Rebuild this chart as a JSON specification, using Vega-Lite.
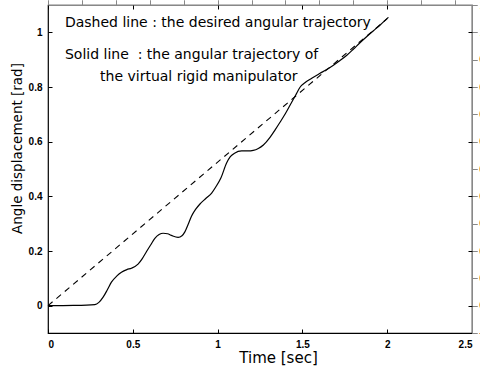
{
  "$schema": "https://vega.github.io/schema/vega-lite/v6.json",
  "width": 424,
  "height": 328,
  "autosize": "none",
  "padding": {"left": 48, "top": 5, "right": 8, "bottom": 35},
  "background": "white",
  "config": {
    "view": {"stroke": "black", "strokeWidth": 1.2},
    "font": "Liberation Sans"
  },
  "layer": [
    {
      "data": {"values": [
        {"t": 0, "a": 0}, {"t": 2.0, "a": 1.05}
      ]},
      "mark": {"type": "line", "color": "black", "strokeWidth": 1.1, "strokeDash": [6, 5]},
      "encoding": {
        "x": {"field": "t", "type": "quantitative", "scale": {"domain": [0, 2.5], "nice": false},
          "axis": {"title": "Time [sec]", "values": [0, 0.5, 1, 1.5, 2, 2.5], "format": "~g", "grid": false,
            "domain": false, "tickColor": "black", "tickSize": -4, "labelPadding": 10,
            "labelFont": "Liberation Sans", "labelFontSize": 10, "labelFontWeight": "bold", "labelColor": "black",
            "titleFont": "DejaVu Sans", "titleFontSize": 15, "titleFontWeight": "normal", "titleColor": "black",
            "titlePadding": 1, "titleX": 230}},
        "y": {"field": "a", "type": "quantitative", "scale": {"domain": [-0.1, 1.1], "nice": false},
          "axis": {"title": "Angle displacement [rad]", "values": [0, 0.2, 0.4, 0.6, 0.8, 1], "format": "~g", "grid": false,
            "domain": false, "tickColor": "black", "tickSize": -4, "labelPadding": 10,
            "labelFont": "Liberation Sans", "labelFontSize": 10, "labelFontWeight": "bold", "labelColor": "black",
            "titleFont": "DejaVu Sans", "titleFontSize": 13.5, "titleFontWeight": "normal", "titleColor": "black",
            "titlePadding": 4, "titleY": 143}}
      }
    },
    {
      "data": {"values": [
        {"t": 0, "a": 0}, {"t": 0.15, "a": 0.001}, {"t": 0.276, "a": 0.004}, {"t": 0.3, "a": 0.012},
        {"t": 0.325, "a": 0.031}, {"t": 0.35, "a": 0.058}, {"t": 0.374, "a": 0.086}, {"t": 0.405, "a": 0.108},
        {"t": 0.433, "a": 0.122}, {"t": 0.465, "a": 0.132}, {"t": 0.492, "a": 0.137}, {"t": 0.531, "a": 0.152},
        {"t": 0.556, "a": 0.172}, {"t": 0.581, "a": 0.198}, {"t": 0.605, "a": 0.222}, {"t": 0.630, "a": 0.246},
        {"t": 0.655, "a": 0.260}, {"t": 0.679, "a": 0.265}, {"t": 0.705, "a": 0.263}, {"t": 0.728, "a": 0.257},
        {"t": 0.767, "a": 0.250}, {"t": 0.79, "a": 0.256}, {"t": 0.807, "a": 0.270}, {"t": 0.826, "a": 0.297},
        {"t": 0.846, "a": 0.327}, {"t": 0.87, "a": 0.352}, {"t": 0.896, "a": 0.372}, {"t": 0.93, "a": 0.392},
        {"t": 0.965, "a": 0.412}, {"t": 0.99, "a": 0.435}, {"t": 1.02, "a": 0.468}, {"t": 1.053, "a": 0.522},
        {"t": 1.075, "a": 0.545}, {"t": 1.1, "a": 0.558}, {"t": 1.142, "a": 0.566}, {"t": 1.18, "a": 0.566},
        {"t": 1.21, "a": 0.568}, {"t": 1.24, "a": 0.575}, {"t": 1.27, "a": 0.588}, {"t": 1.309, "a": 0.616},
        {"t": 1.34, "a": 0.644}, {"t": 1.368, "a": 0.671}, {"t": 1.4, "a": 0.703}, {"t": 1.427, "a": 0.733},
        {"t": 1.46, "a": 0.770}, {"t": 1.486, "a": 0.799}, {"t": 1.52, "a": 0.818}, {"t": 1.555, "a": 0.832},
        {"t": 1.604, "a": 0.850}, {"t": 1.643, "a": 0.864}, {"t": 1.683, "a": 0.880}, {"t": 1.72, "a": 0.896},
        {"t": 1.762, "a": 0.916}, {"t": 1.80, "a": 0.938}, {"t": 1.841, "a": 0.963}, {"t": 1.88, "a": 0.985},
        {"t": 1.919, "a": 1.006}, {"t": 1.96, "a": 1.028}, {"t": 2.007, "a": 1.055}
      ]},
      "mark": {"type": "line", "color": "black", "strokeWidth": 1.2, "interpolate": "monotone"},
      "encoding": {
        "x": {"field": "t", "type": "quantitative"},
        "y": {"field": "a", "type": "quantitative"}
      }
    },
    {
      "data": {"values": [
        {"t": 0.1, "a": 1.033, "label": "Dashed line : the desired angular trajectory"},
        {"t": 0.1, "a": 0.917, "label": "Solid line\u00a0 : the angular trajectory of"},
        {"t": 0.307, "a": 0.838, "label": "the virtual rigid manipulator"}
      ]},
      "mark": {"type": "text", "align": "left", "baseline": "middle", "font": "DejaVu Sans", "fontSize": 14, "color": "black"},
      "encoding": {
        "x": {"field": "t", "type": "quantitative"},
        "y": {"field": "a", "type": "quantitative"},
        "text": {"field": "label"}
      }
    },
    {
      "data": {"values": [{"t": 0, "a": 0}]},
      "mark": {"type": "point", "opacity": 0},
      "encoding": {
        "x": {"field": "t", "type": "quantitative",
          "axis": {"orient": "top", "title": null, "labels": false, "values": [0, 0.5, 1, 1.5, 2, 2.5], "grid": false, "domain": false, "tickColor": "black", "tickSize": -4}},
        "y": {"field": "a", "type": "quantitative",
          "axis": {"orient": "right", "title": null, "labels": false, "values": [0, 0.2, 0.4, 0.6, 0.8, 1], "grid": false, "domain": false, "tickColor": "black", "tickSize": -4}}
      }
    }
  ],
  "resolve": {"axis": {"x": "independent", "y": "independent"}}
}
